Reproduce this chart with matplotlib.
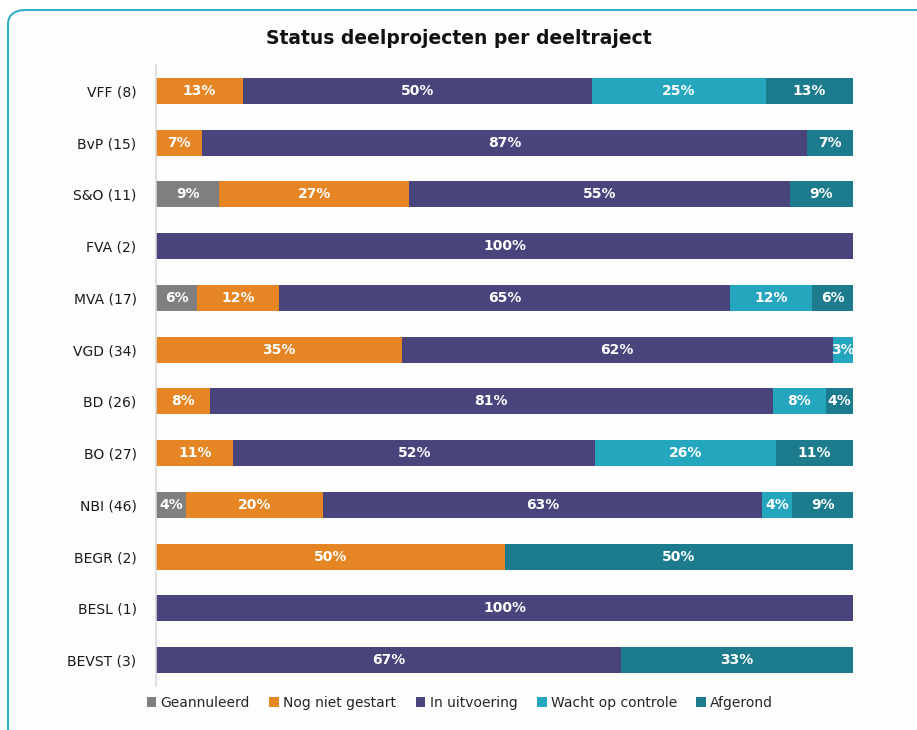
import numpy as np
import matplotlib.pyplot as plt
from matplotlib.patches import FancyBboxPatch

# Deeltrajecten (van boven naar beneden) en aantallen deelprojecten per status
categories = ['VFF (8)', 'BvP (15)', 'S&O (11)', 'FVA (2)', 'MVA (17)', 'VGD (34)',
              'BD (26)', 'BO (27)', 'NBI (46)', 'BEGR (2)', 'BESL (1)', 'BEVST (3)']
geannuleerd = [0, 0, 1, 0, 1, 0, 0, 0, 2, 0, 0, 0]
nog_niet = [1, 1, 3, 0, 2, 12, 2, 3, 9, 1, 0, 0]
uitvoering = [4, 13, 6, 2, 11, 21, 21, 14, 29, 0, 1, 2]
wacht = [2, 0, 0, 0, 2, 1, 2, 7, 2, 0, 0, 0]
afgerond = [1, 1, 1, 0, 1, 0, 1, 3, 4, 1, 0, 1]

series = ['Geannuleerd', 'Nog niet gestart', 'In uitvoering', 'Wacht op controle', 'Afgerond']
colors = ['#7f7f7f', '#e68523', '#49457c', '#25a6bf', '#1c7b8c']

counts = np.array([geannuleerd, nog_niet, uitvoering, wacht, afgerond], dtype=float)
shares = counts / counts.sum(axis=0)

fig = plt.figure(figsize=(9.17, 7.30), dpi=100)
fig.patch.set_facecolor('white')

# Kader rond de grafiek (loopt rechts en onder buiten beeld)
frame = FancyBboxPatch((8 / 917, -0.05), 1.2, 1 - 10 / 730 + 0.05,
                       boxstyle='round,pad=0,rounding_size=0.02',
                       transform=fig.transFigure, facecolor='#fdfdfd',
                       edgecolor='#2fb0c6', linewidth=1.5, zorder=-5)
fig.patches.append(frame)

ax = fig.add_axes([156 / 917, 1 - 686 / 730, (853 - 156) / 917, (686 - 65) / 730])
ax.set_facecolor('none')

y = np.arange(len(categories))
left = np.zeros(len(categories))
for i, name in enumerate(series):
    ax.barh(y, shares[i], left=left, height=0.5, color=colors[i], label=name, zorder=2)
    for j in range(len(categories)):
        if shares[i, j] > 0:
            pct = int(shares[i, j] * 100 + 0.5)
            ax.text(left[j] + shares[i, j] / 2, y[j], f'{pct}%', ha='center', va='center',
                    color='white', fontsize=10, fontweight='bold', zorder=3)
    left += shares[i]

ax.set_xlim(0, 1)
ax.set_ylim(len(categories) - 0.5, -0.5)
ax.set_yticks(y)
ax.set_yticklabels(categories, fontsize=10, color='#1a1a1a')
ax.set_xticks([])
ax.tick_params(axis='y', length=0, pad=14)
for s in ['top', 'right', 'bottom']:
    ax.spines[s].set_visible(False)
ax.spines['left'].set_color('#d9d9d9')
ax.spines['left'].set_linewidth(1.2)

fig.text(0.5, 1 - 38 / 730, 'Status deelprojecten per deeltraject', ha='center', va='center',
         fontsize=13.5, fontweight='bold', color='#111111')

fig.legend(loc='center', bbox_to_anchor=(460 / 917, 1 - 703 / 730), ncol=5, frameon=False,
           fontsize=10, handlelength=0.7, handleheight=0.7, handletextpad=0.3,
           columnspacing=1.4, labelcolor='#262626')

fig.savefig('out.png', dpi=100, facecolor=fig.get_facecolor())
